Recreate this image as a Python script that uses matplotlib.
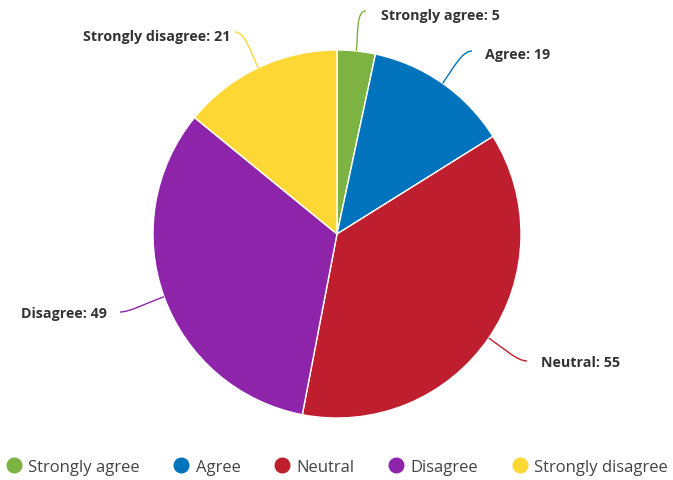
import matplotlib
matplotlib.use("Agg")
import matplotlib.pyplot as plt
from matplotlib.path import Path
from matplotlib.patches import PathPatch
import numpy as np

categories = ["Strongly agree", "Agree", "Neutral", "Disagree", "Strongly disagree"]
values = [5, 19, 55, 49, 21]
colors = ["#7cb342", "#0073bd", "#be1e2d", "#8e24aa", "#fdd835"]

W, H = 673, 481
fig = plt.figure(figsize=(W / 100, H / 100), dpi=100)
ax = fig.add_axes([0, 0, 1, 1])

cx, cy, R = 337, H - 235, 184
wedges, _ = ax.pie(values, colors=colors, startangle=90, counterclock=False,
                   center=(cx, cy), radius=R, frame=True,
                   wedgeprops=dict(edgecolor="white", linewidth=1))
ax.set_xlim(0, W)
ax.set_ylim(0, H)
ax.set_aspect("equal")
ax.axis("off")

# label anchor points (pixel coords, y downward) and alignment
label_pos = [(381, 16, "left"), (485, 55, "left"), (541, 363, "left"),
             (107, 314, "right"), (230, 37, "right")]
line_end = [(366, 12), (472, 52), (527, 362), (120, 313), (235, 33)]

total = sum(values)
cum = 0
for i, v in enumerate(values):
    mid = (cum + v / 2) / total * 2 * np.pi
    cum += v
    dx, dy = np.sin(mid), np.cos(mid)
    p0 = np.array([cx + R * dx, cy + R * dy])
    ex, ey = line_end[i]
    p3 = np.array([ex, H - ey])
    side = 1 if label_pos[i][2] == "left" else -1
    p1 = p0 + np.array([dx, dy]) * 18
    p2 = p3 - np.array([side * 10, 0])
    path = Path([p0, p1, p2, p3], [Path.MOVETO, Path.CURVE4, Path.CURVE4, Path.CURVE4])
    ax.add_patch(PathPatch(path, fill=False, edgecolor=colors[i], linewidth=1.0))
    lx, ly, ha = label_pos[i]
    ax.text(lx, H - ly, f"{categories[i]}: {v}", ha=ha, va="center",
            fontsize=10.3, fontweight="bold", family="Open Sans", color="#333333")

# legend
handles = [plt.Line2D([], [], marker="o", linestyle="", markersize=10.5,
                      markerfacecolor=c, markeredgecolor=c) for c in colors]
leg = fig.legend(handles, categories, loc="center", bbox_to_anchor=(0.5, 1 - 468 / H),
                 ncol=5, frameon=False, handletextpad=0.35, columnspacing=2.0,
                 prop=dict(family="Open Sans", size=12), labelcolor="#444444",
                 handlelength=1.0, borderpad=0, borderaxespad=0)

fig.savefig("out.png", dpi=100)
